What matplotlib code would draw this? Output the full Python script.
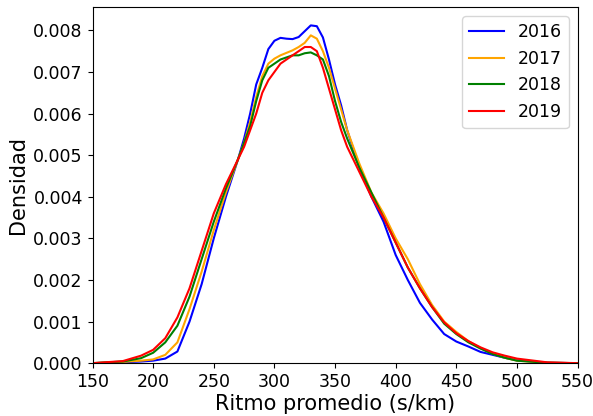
import matplotlib
matplotlib.use("Agg")
import matplotlib.pyplot as plt

# ritmo promedio (s/km) donde se leyeron las densidades
ritmo = [150, 175, 190, 200, 210, 220, 230, 240, 250, 260, 270, 275, 280, 285,
         290, 295, 300, 305, 310, 315, 320, 325, 330, 335, 340, 345, 350, 355,
         360, 370, 380, 390, 400, 410, 420, 430, 440, 450, 460, 470, 480, 490,
         500, 525, 550]

dens_2016 = [0.0, 0.00002, 0.00004, 0.00006, 0.00011, 0.00028, 0.0010, 0.0019,
             0.0030, 0.0040, 0.0049, 0.0054, 0.0060, 0.0067, 0.0071, 0.00755,
             0.00775, 0.00782, 0.0078, 0.00779, 0.00784, 0.00798, 0.00812,
             0.0081, 0.00783, 0.0073, 0.0067, 0.0062, 0.0056, 0.0047, 0.0040,
             0.0034, 0.0026, 0.0020, 0.00145, 0.00105, 0.0007, 0.00052, 0.0004,
             0.00027, 0.0002, 0.00013, 0.00007, 0.00001, 0.0]
dens_2017 = [0.0, 0.00003, 0.00006, 0.00009, 0.0002, 0.0005, 0.0013, 0.0022,
             0.0032, 0.0041, 0.0049, 0.0053, 0.0058, 0.0064, 0.0069, 0.0072,
             0.00732, 0.0074, 0.00746, 0.00752, 0.0076, 0.0077, 0.00788,
             0.0078, 0.0075, 0.0071, 0.0066, 0.0061, 0.0056, 0.0048, 0.0041,
             0.0036, 0.0030, 0.0025, 0.0019, 0.0014, 0.0010, 0.00075, 0.00053,
             0.00036, 0.00023, 0.00013, 0.00006, 0.00001, 0.0]
dens_2018 = [0.0, 0.00004, 0.00012, 0.00025, 0.0005, 0.0009, 0.0016, 0.0025,
             0.0034, 0.0042, 0.0049, 0.0053, 0.0057, 0.0063, 0.0068, 0.0071,
             0.0072, 0.0073, 0.00735, 0.0074, 0.0074, 0.00745, 0.00747,
             0.0074, 0.0073, 0.0069, 0.0063, 0.0058, 0.0054, 0.0047, 0.0041,
             0.0035, 0.0029, 0.0023, 0.0018, 0.00135, 0.00095, 0.0007, 0.0005,
             0.00035, 0.00022, 0.00013, 0.00006, 0.00001, 0.0]
dens_2019 = [0.0, 0.00005, 0.00018, 0.00032, 0.0006, 0.0011, 0.0018, 0.0027,
             0.0036, 0.0043, 0.0049, 0.0052, 0.0056, 0.0060, 0.0065, 0.0068,
             0.0070, 0.0072, 0.0073, 0.0074, 0.0075, 0.0076, 0.0076, 0.0075,
             0.0071, 0.0066, 0.0061, 0.0056, 0.0052, 0.0046, 0.0040, 0.0035,
             0.0029, 0.0023, 0.0018, 0.00135, 0.00098, 0.00072, 0.00053,
             0.00038, 0.00026, 0.00018, 0.00011, 0.00002, 0.0]

anios = ["2016", "2017", "2018", "2019"]
colores = ["blue", "orange", "green", "red"]

fig = plt.figure(figsize=(5.93, 4.16), dpi=100)
ax = fig.add_axes([0.156, 0.127, 0.818, 0.855])

for anio, dens, c in zip(anios, [dens_2016, dens_2017, dens_2018, dens_2019], colores):
    ax.plot(ritmo, dens, color=c, lw=1.5, label=anio)

ax.set_xlim(150, 550)
ax.set_ylim(0, 0.00855)
ax.set_xticks(range(150, 551, 50))
ax.set_yticks([i / 1000 for i in range(9)])
ax.set_yticklabels(["%.3f" % (i / 1000) for i in range(9)])
ax.tick_params(labelsize=12.5)
ax.set_xlabel("Ritmo promedio (s/km)", fontsize=15, labelpad=2)
ax.set_ylabel("Densidad", fontsize=15)
ax.legend(fontsize=12.5, loc="upper right")

fig.savefig("out.png", dpi=100)
